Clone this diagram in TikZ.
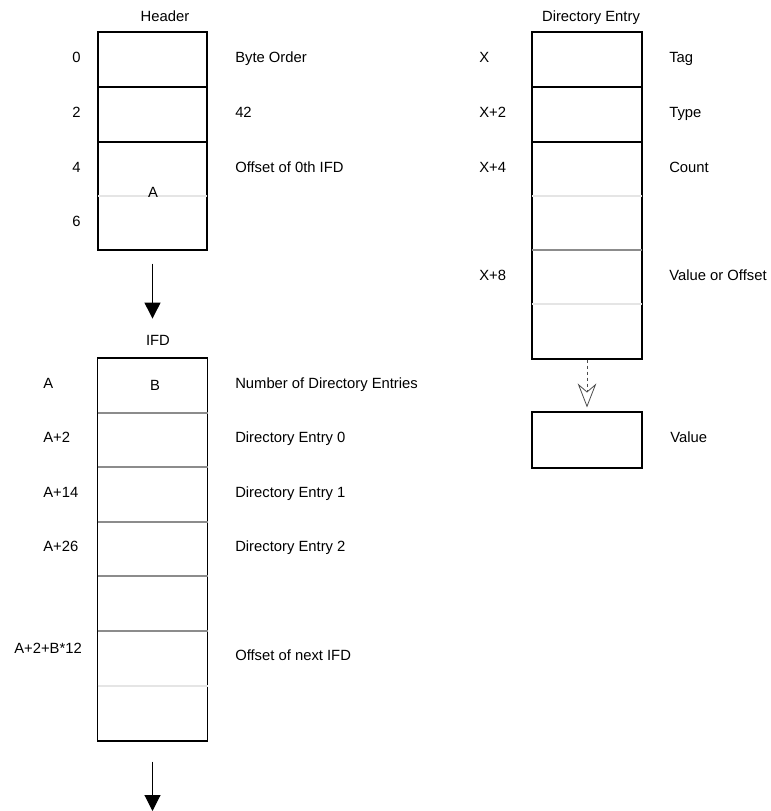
\documentclass[tikz,border=0pt]{standalone}
\usepackage{fontspec}
\setmainfont{Liberation Sans}
\usetikzlibrary{arrows.meta}
\begin{document}
\begin{tikzpicture}[x=0.75pt,y=-0.75pt,
  txt/.style={inner sep=0pt,font=\fontsize{11.1}{12}\selectfont},
  lbl/.style={txt,anchor=mid west},
  ctr/.style={txt,anchor=mid},
  box/.style={draw=black,line width=0.8pt,inner sep=0pt,fill=none},
  sepdark/.style={line width=0.8pt,black},
  sepmed/.style={line width=1.1pt,black!45},
  seplight/.style={line width=0.8pt,black!10},
  arr/.style={line width=0.8pt,-{Triangle[width=12pt,length=12pt]}},
  dasharr/.style={line width=0.6pt,black!70,dash pattern=on 2.25pt off 2.25pt,-{Stealth[open,width=14pt,length=18pt,inset=6pt]}}
]
\useasboundingbox (0,0) rectangle (771,811);

% ---------- Header ----------
\node[ctr] (hdrt) at (165,17.5) {Header};
\node[box,minimum width=81.75pt,minimum height=163.5pt] (hdr) at (152.5,141) {};
\draw[sepdark] (98,87) -- (207,87);
\draw[sepdark] (98,142) -- (207,142);
\draw[seplight] (98,196) -- (207,196);
\node[lbl] (h0) at (72,58.5) {0};
\node[lbl] (h2) at (72,113.5) {2};
\node[lbl] (h4) at (72,168.5) {4};
\node[lbl] (h6) at (72,222.5) {6};
\node[ctr] (hA) at (153,194) {A};
\node[lbl] (hbo) at (235,58.5) {Byte Order};
\node[lbl] (h42) at (235,113.5) {42};
\node[lbl] (hoff) at (235,168.5) {Offset of 0th IFD};

% ---------- IFD ----------
\node[ctr] (ifdt) at (158,341.5) {IFD};
\node[box,minimum width=82.5pt,minimum height=287.25pt] (ifd) at (152.5,549.5) {};
\draw[sepmed] (97.5,413) -- (207.5,413);
\draw[sepmed] (97.5,467) -- (207.5,467);
\draw[sepmed] (97.5,522) -- (207.5,522);
\draw[sepmed] (97.5,576) -- (207.5,576);
\draw[sepmed] (97.5,631) -- (207.5,631);
\draw[seplight] (97.5,686) -- (207.5,686);
\node[lbl] (iA) at (43,384.5) {A};
\node[lbl] (iA2) at (43,438.5) {A+2};
\node[lbl] (iA14) at (43,493.5) {A+14};
\node[lbl] (iA26) at (43,547.5) {A+26};
\node[lbl] (iAn) at (14,649.5) {A+2+B*12};
\node[ctr] (iB) at (155,386.5) {B};
\node[lbl] (inum) at (235,384.5) {Number of Directory Entries};
\node[lbl] (ide0) at (235,438.5) {Directory Entry 0};
\node[lbl] (ide1) at (235,493.5) {Directory Entry 1};
\node[lbl] (ide2) at (235,547.5) {Directory Entry 2};
\node[lbl] (inext) at (235,656.5) {Offset of next IFD};

% ---------- Directory Entry ----------
\node[ctr] (dirt) at (591,17.5) {Directory Entry};
\node[box,minimum width=82.5pt,minimum height=245.25pt] (dir) at (587,195.5) {};
\draw[sepdark] (532,87) -- (642,87);
\draw[sepdark] (532,142) -- (642,142);
\draw[seplight] (532,196) -- (642,196);
\draw[sepmed] (532,250) -- (642,250);
\draw[seplight] (532,304) -- (642,304);
\node[lbl] (dX) at (479,58.5) {X};
\node[lbl] (dX2) at (479,113.5) {X+2};
\node[lbl] (dX4) at (479,168.5) {X+4};
\node[lbl] (dX8) at (479,276.5) {X+8};
\node[lbl] (dtag) at (669,58.5) {Tag};
\node[lbl] (dtype) at (669,113.5) {Type};
\node[lbl] (dcount) at (669,168.5) {Count};
\node[lbl] (dval) at (669,276.5) {Value or Offset};

% ---------- Value ----------
\node[box,minimum width=82.5pt,minimum height=42pt] (val) at (587,440) {};
\node[lbl] (vlbl) at (670,438.5) {Value};

% ---------- Connectors ----------
\coordinate (endarrow) at (152.5,811);
\draw[arr,shorten <=9.75pt] (hdr.south) -- (hdr.south |- ifdt.north) [shorten >=12pt];
\draw[arr,shorten <=15pt] (ifd.south) -- (endarrow);
\draw[dasharr,shorten >=3pt] (dir.south) -- (val.north);
\end{tikzpicture}
\end{document}
